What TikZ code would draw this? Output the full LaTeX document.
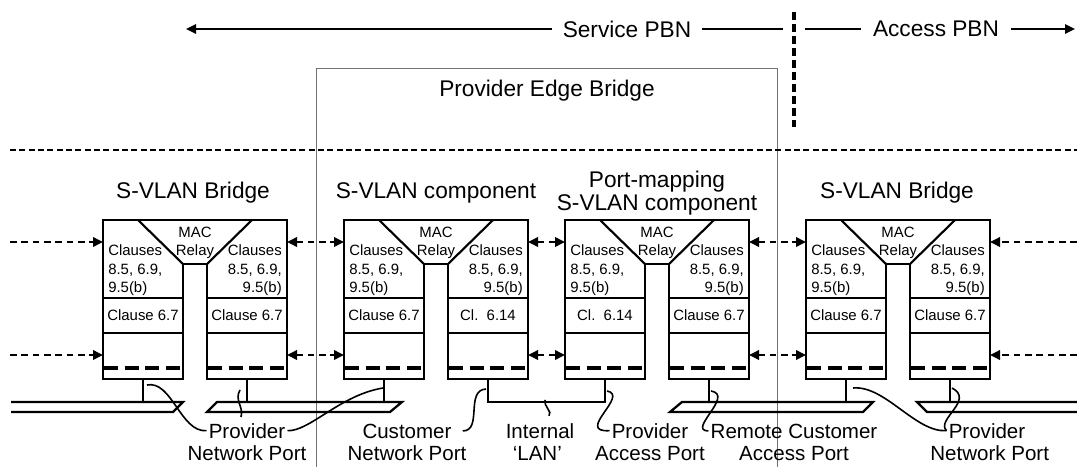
\documentclass[tikz,border=0pt]{standalone}
\usepackage{fontspec}
\setmainfont{Liberation Sans}
\usetikzlibrary{positioning,calc,arrows.meta}

\begin{document}
\begin{tikzpicture}[x=0.75pt,y=-0.75pt,
  hdg/.style={font=\fontsize{17}{17.25}\selectfont, inner sep=0pt},
  lbl/.style={font=\fontsize{15.4}{16.5}\selectfont, inner sep=1.5pt, anchor=base},
  boxtxt/.style={font=\fontsize{11.2}{13.9}\selectfont, inner sep=0pt},
  boxline/.style={line width=1.6pt},
  dasharr/.style={line width=1.8pt, dash pattern=on 5pt off 3.5pt},
  onearr/.style={-{Triangle[length=7.5pt,width=7pt]}},
  twoarr/.style={{Triangle[length=7.5pt,width=7pt]}-{Triangle[length=7.5pt,width=7pt]}},
  lanline/.style={line width=1.7pt},
  wire/.style={line width=1.2pt}]
\useasboundingbox (0,0) rectangle (1077,467);

% provider edge bridge frame
\draw[black!55, line width=0.75pt] (316,467) |- (777,69) -- (777,467);
\node[hdg, anchor=base] (peb) at (547,97) {Provider Edge Bridge};

% extent of the two networks
\node[hdg, inner xsep=8pt] (serv) at (627,29) {Service PBN};
\node[hdg, inner xsep=9pt] (acc) at (936,29) {Access PBN};
\coordinate (servtip) at (186,29);
\coordinate (servend) at (783,29);
\coordinate (accbeg) at (805,29);
\coordinate (acctip) at (1075,29);
\draw[line width=1.2pt, onearr] (serv.west) -- (servtip);
\draw[line width=1.2pt] (serv.east) -- (servend);
\draw[line width=1.2pt] (accbeg) -- (acc.west);
\draw[line width=1.2pt, onearr] (acc.east) -- (acctip);
\draw[line width=2.5pt, dash pattern=on 6pt off 3pt] (794,12) -- (794,127);
\draw[line width=1.8pt, dash pattern=on 4.5pt off 2.5pt] (10,150) -- (1077,150);

% bridges and components
\foreach \n/\x/\tl/\tr in {b1/103/Clause 6.7/Clause 6.7, b2/344/Clause 6.7/Cl.~~6.14,
    b3/565/Cl.~~6.14/Clause 6.7, b4/806/Clause 6.7/Clause 6.7}{
  \draw[boxline] (\x+80,379) -- (\x,379) -- (\x,220) -- (\x+184,220) -- (\x+184,379)
    -- (\x+104,379) -- (\x+104,264) -- (\x+80,264) -- cycle;
  \draw[boxline] (\x+35,220) -- (\x+80,264) (\x+104,264) -- (\x+149,220);
  \draw[boxline] (\x,298) -- (\x+80,298) (\x,333) -- (\x+80,333)
    (\x+104,298) -- (\x+184,298) (\x+104,333) -- (\x+184,333);
  \draw[line width=2.7pt, dash pattern=on 10.5pt off 5pt] (\x+1,368) -- (\x+80,368)
    (\x+105,368) -- (\x+184,368);
  \node[boxtxt, align=center, anchor=north] (\n-relay) at (\x+92,226.6) {MAC\\Relay};
  \node[boxtxt, align=left, anchor=north west] (\n-cl) at (\x+5,244.5) {Clauses\\8.5, 6.9,\\9.5(b)};
  \node[boxtxt, align=right, anchor=north east] (\n-cr) at (\x+179,244.5) {Clauses\\8.5, 6.9,\\9.5(b)};
  \node[boxtxt] (\n-ql) at (\x+40,315.5) {\tl};
  \node[boxtxt] (\n-qr) at (\x+144,315.5) {\tr};
  \coordinate (\n-pl) at (\x+40,379);
  \coordinate (\n-pr) at (\x+144,379);
  \coordinate (\n-wu) at (\x,242);
  \coordinate (\n-wd) at (\x,355);
  \coordinate (\n-eu) at (\x+184,242);
  \coordinate (\n-ed) at (\x+184,355);
}
\node[hdg, anchor=base] (svb1) at (193,198) {S-VLAN Bridge};
\node[hdg, anchor=base] (svc) at (436,198) {S-VLAN component};
\node[hdg, align=center] (pmc) at (657,193.5) {Port-mapping\\S-VLAN component};
\node[hdg, anchor=base] (svb4) at (897,198) {S-VLAN Bridge};

% frame flow
\coordinate (inL1) at (10,242);
\coordinate (inL2) at (10,355);
\coordinate (inR1) at (1077,242);
\coordinate (inR2) at (1077,355);
\draw[dasharr, onearr] (inL1) -- (b1-wu);
\draw[dasharr, onearr] (inL2) -- (b1-wd);
\draw[dasharr, onearr] (inR1) -- (b4-eu);
\draw[dasharr, onearr] (inR2) -- (b4-ed);
\foreach \a/\b in {b1/b2, b2/b3, b3/b4}{
  \draw[dasharr, twoarr] (\a-eu) -- (\b-wu);
  \draw[dasharr, twoarr] (\a-ed) -- (\b-wd);
}

% LANs
\draw[lanline] (11,402) -- (183,402) -- (173,412) -- (11,412);
\draw[lanline] (207,412) -- (217,402) -- (402,402) -- (390,412) -- cycle;
\draw[lanline] (670,412) -- (682,402) -- (873,402) -- (863,412) -- cycle;
\draw[lanline] (1077,402) -- (917,402) -- (927,412) -- (1077,412);
\foreach \p in {b1-pl,b1-pr,b2-pl,b3-pr,b4-pl,b4-pr}
  \draw[lanline] (\p) -- ++(0,23);
\draw[lanline] (b2-pr) -- ++(0,23) -| (b3-pl);

% port names
\node[lbl] (pnpL) at (247,438) {Provider};
\node[lbl] (pnpLb) at ([yshift=-16.5pt]pnpL.base) {Network Port};
\node[lbl] (cnp) at (407,438) {Customer};
\node[lbl] (cnpb) at ([yshift=-16.5pt]cnp.base) {Network Port};
\node[lbl] (ilan) at (540,438) {Internal};
\node[lbl] (ilanb) at ([yshift=-16.5pt,xshift=-2pt]ilan.base) {`LAN'};
\node[lbl] (pap) at (650,438) {Provider};
\node[lbl] (papb) at ([yshift=-16.5pt]pap.base) {Access Port};
\node[lbl] (rcap) at (794,438) {Remote Customer};
\node[lbl] (rcapb) at ([yshift=-16.5pt]rcap.base) {Access Port};
\node[lbl] (pnpR) at (987,438) {Provider};
\node[lbl] (pnpRb) at ([yshift=-16.5pt,xshift=2pt]pnpR.base) {Network Port};

\draw[wire] (pnpL.west) .. controls +(-26,2) and +(25,-5) .. ($(b1-pl)+(4,6)$);
\draw[wire] ($(b1-pr)+(-7,11)$) .. controls +(-6,10) and +(3,-10) .. ($(b1-pr)+(-6,38)$);
\draw[wire] (pnpL.east) .. controls +(22,1) and +(-43,7) .. ($(b2-pl)+(-1,9)$);
\draw[wire] ($(cnp.east)+(9,0)$) .. controls +(20,0) and +(-21,1) .. ($(b2-pr)+(-2,10)$);
\draw[wire] ($(ilan.north)+(9,-5)$) .. controls +(4,-4) and +(-2,6) .. ($(ilan.north)+(5,-21)$);
\draw[wire] (pap.west) .. controls +(-35,2) and +(23,4) .. ($(b3-pl)+(2,12)$);
\draw[wire] (rcap.west) .. controls +(-22,0) and +(24,4) .. ($(b3-pr)+(2,12)$);
\draw[wire] (pnpR.west) .. controls +(-31,2) and +(32,-3) .. ($(b4-pl)+(7,9)$);
\draw[wire] (pnpR.west) .. controls +(-11,-11) and +(23,12) .. ($(b4-pr)+(2,9)$);
\end{tikzpicture}
\end{document}
